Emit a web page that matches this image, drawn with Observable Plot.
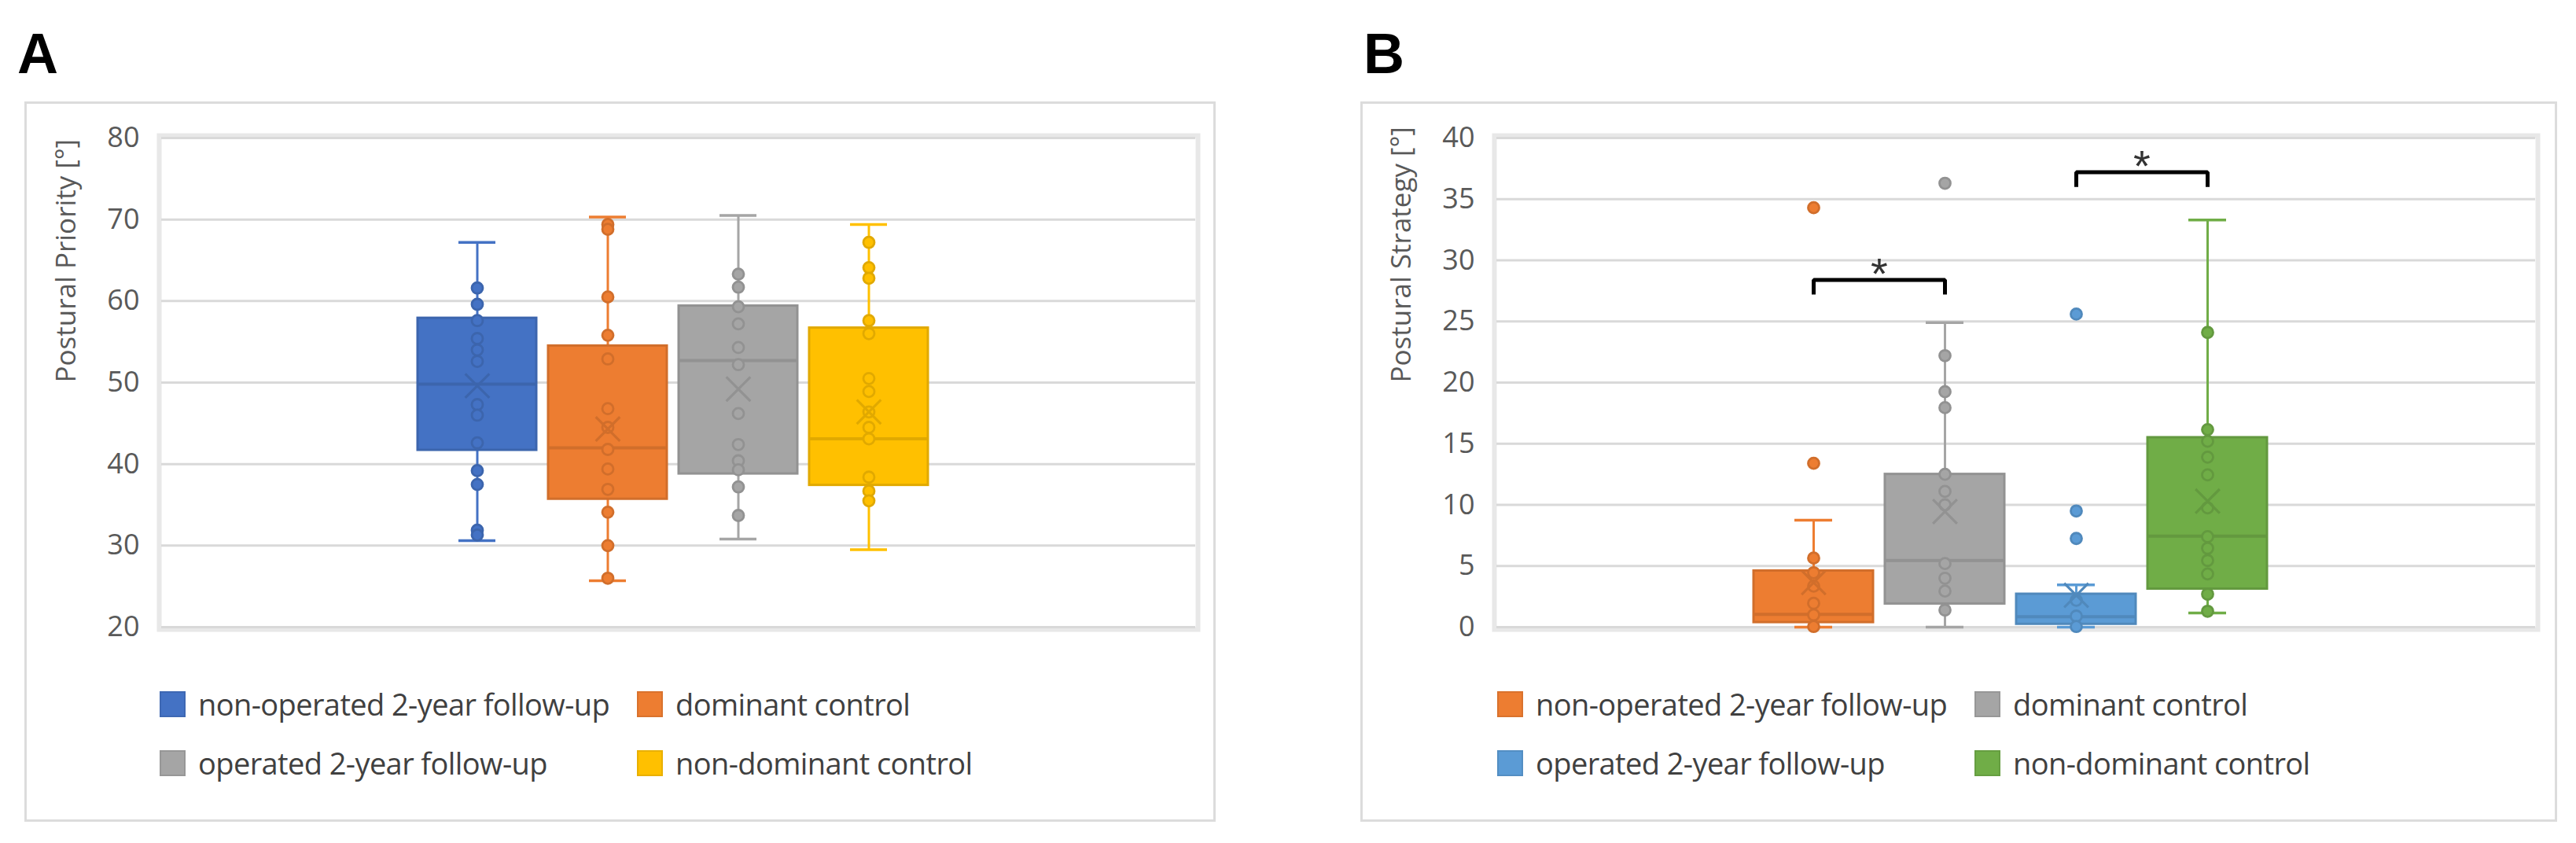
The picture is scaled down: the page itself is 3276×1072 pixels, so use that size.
<!DOCTYPE html>
<html>
<head>
<meta charset="utf-8">
<script src="https://cdn.jsdelivr.net/npm/d3@7"></script>
<script src="https://cdn.jsdelivr.net/npm/@observablehq/plot@0.6"></script>
<style>
  body { margin: 0; background: #fff; }
  #root { position: relative; width: 3276px; height: 1072px; overflow: hidden; background: #fff; font-family: "Open Sans", sans-serif; }
  .panel { position: absolute; border: 3px solid #dcdcdc; box-sizing: border-box; }
  .letter { position: absolute; font: bold 72px "Liberation Sans", Arial, sans-serif; line-height: 1; color: #000; }
  .chart { position: absolute; }
  .legend { position: absolute; display: grid; grid-template-columns: 607px 607px; row-gap: 35px; }
  .item { display: flex; align-items: center; height: 40px; white-space: nowrap; }
  .sw { width: 33px; height: 33px; box-sizing: border-box; margin-right: 16px; flex: none; }
  .lab { font-family: "Open Sans", sans-serif; font-size: 38px; color: #404040; letter-spacing: -0.6px; }
</style>
</head>
<body>
<div id="root"></div>
<script>
// ---------- Panel A: Postural Priority ----------
const seriesA = ["non-operated 2-year follow-up", "dominant control", "operated 2-year follow-up", "non-dominant control"];
const lowA  = [30.6, 25.7, 30.8, 29.5];
const q1A   = [41.7, 35.7, 38.8, 37.4];
const medA  = [49.8, 42.0, 52.7, 43.1];
const q3A   = [57.9, 54.5, 59.4, 56.7];
const highA = [67.2, 70.3, 70.5, 69.4];
const meanA = [49.6, 44.3, 49.2, 46.4];
const pointsA = [
  [61.6, 59.6, 57.6, 55.4, 54.0, 52.6, 47.3, 46.0, 42.6, 39.2, 37.5, 31.9, 31.3],
  [69.4, 68.8, 60.5, 55.8, 52.9, 46.8, 44.5, 41.8, 39.4, 36.9, 34.1, 30.0, 26.0],
  [63.3, 61.7, 59.3, 57.2, 54.3, 52.2, 46.2, 42.4, 40.4, 39.3, 37.2, 33.7],
  [67.2, 64.1, 62.8, 57.6, 56.0, 50.5, 48.9, 46.4, 44.5, 43.1, 38.4, 36.7, 35.5]
];
const ticksA = [20, 30, 40, 50, 60, 70, 80];
const yLabelA = "Postural Priority [°]";

// ---------- Panel B: Postural Strategy ----------
const seriesB = ["non-operated 2-year follow-up", "dominant control", "operated 2-year follow-up", "non-dominant control"];
const lowB  = [0, 0, 0, 1.15];
const q1B   = [0.38, 1.9, 0.24, 3.12];
const medB  = [1.05, 5.45, 0.85, 7.45];
const q3B   = [4.6, 12.5, 2.7, 15.5];
const highB = [8.75, 24.9, 3.45, 33.3];
const meanB = [3.65, 9.45, 2.6, 10.3];
const pointsB = [
  [34.3, 13.4, 5.65, 4.45, 3.35, 1.95, 1.0, 0.05],
  [36.3, 22.2, 19.25, 17.95, 12.5, 11.1, 10.0, 5.2, 4.0, 2.95, 1.4],
  [25.6, 9.5, 7.25, 2.2, 0.9, 0.05],
  [24.1, 16.15, 15.2, 13.9, 12.45, 9.75, 7.4, 6.45, 5.45, 4.35, 2.7, 1.3]
];
const ticksB = [0, 5, 10, 15, 20, 25, 30, 35, 40];
const yLabelB = "Postural Strategy [°]";
const bracketFrom  = ["non-operated 2-year follow-up", "operated 2-year follow-up"];
const bracketTo    = ["dominant control", "non-dominant control"];
const bracketTop   = [28.4, 37.2];
const bracketFoot  = [27.2, 36.0];
const bracketLabel = ["*", "*"];

// ---------- styling ----------
const colorsA = ["#4472C4", "#ED7D31", "#A5A5A5", "#FFC000"];
const colorsB = ["#ED7D31", "#A5A5A5", "#5B9BD5", "#70AD47"];

const root = document.getElementById("root");

function darker(c, k = 0.35) { return d3.color(c).darker(k).formatHex(); }

function panel(cfg) {
  const {left, width, letter, letterLeft, series, colors, low, q1, med, q3, high, mean, points, ticks, yLabel, brackets, legendLeft} = cfg;
  const top = 129, height = 700;
  const mL = cfg.marginLeft, mR = cfg.marginRight, mT = 46, mB = 32;
  const pi = 0.09, po = 2.0;
  const step = (width - mL - mR) / (series.length - pi + 2 * po);
  const fillOf = Object.fromEntries(series.map((s, i) => [s, colors[i]]));
  const strokeOf = Object.fromEntries(series.map((s, i) => [s, darker(colors[i])]));

  const stats = series.map((s, i) => ({series: s, low: low[i], q1: q1[i], med: med[i], q3: q3[i], high: high[i], mean: mean[i]}));
  const pts = points.flatMap((arr, i) => arr.map(v => ({series: series[i], value: v})));

  const marks = [
    Plot.frame({stroke: "#e8e8e8", strokeWidth: 6, inset: -3}),
    Plot.ruleY(ticks, {stroke: "#d9d9d9", strokeWidth: 3}),
    Plot.text(ticks, {y: d => d, text: d => String(d), frameAnchor: "left", textAnchor: "end", dx: -28, fontSize: 36, fill: "#595959"}),
    Plot.text([yLabel], {text: d => d, frameAnchor: "left", dx: -121, rotate: -90, fontSize: 35, fill: "#595959"}),
    // whiskers
    Plot.ruleX(stats, {x: "series", y1: "low", y2: "q1", stroke: d => fillOf[d.series], strokeWidth: 3}),
    Plot.ruleX(stats, {x: "series", y1: "q3", y2: "high", stroke: d => fillOf[d.series], strokeWidth: 3}),
    Plot.tickY(stats, {x: "series", y: "low", stroke: d => fillOf[d.series], strokeWidth: 3.5, insetLeft: 52, insetRight: 52}),
    Plot.tickY(stats, {x: "series", y: "high", stroke: d => fillOf[d.series], strokeWidth: 3.5, insetLeft: 52, insetRight: 52}),
    // boxes
    Plot.barY(stats, {x: "series", y1: "q1", y2: "q3", fill: d => fillOf[d.series], stroke: d => strokeOf[d.series], strokeWidth: 3}),
    Plot.tickY(stats, {x: "series", y: "med", stroke: d => strokeOf[d.series], strokeWidth: 4}),
    // points
    Plot.dot(pts, {x: "series", y: "value", r: 7, fill: d => fillOf[d.series], stroke: d => strokeOf[d.series], strokeWidth: 2.8}),
    // mean
    Plot.dot(stats, {x: "series", y: "mean", symbol: "times", r: 14, stroke: d => strokeOf[d.series], strokeWidth: 3.2})
  ];

  if (brackets) {
    const rows = brackets.from.flatMap((f, i) => [
      {x: f, y: brackets.foot[i], z: i},
      {x: f, y: brackets.top[i], z: i},
      {x: brackets.to[i], y: brackets.top[i], z: i},
      {x: brackets.to[i], y: brackets.foot[i], z: i}
    ]);
    marks.push(Plot.line(rows, {x: "x", y: "y", z: "z", stroke: "#000", strokeWidth: 5, strokeLinejoin: "miter", strokeLinecap: "butt"}));
    const stars = brackets.from.map((f, i) => ({x: f, y: brackets.top[i], label: brackets.label[i]}));
    marks.push(Plot.text(stars, {x: "x", y: "y", text: "label", dx: step / 2, dy: 11, lineAnchor: "bottom", fontSize: 56, fontFamily: "Liberation Sans, Arial, sans-serif", fill: "#333"}));
  }

  const svg = Plot.plot({
    width, height,
    marginLeft: mL, marginRight: mR, marginTop: mT, marginBottom: mB,
    x: {domain: series, paddingInner: pi, paddingOuter: po, align: 0.49, axis: null},
    y: {domain: cfg.domain, axis: null},
    color: {type: "identity"},
    style: {fontFamily: "Open Sans, sans-serif", background: "transparent", overflow: "visible", maxWidth: "none"},
    marks
  });

  const box = document.createElement("div");
  box.className = "panel";
  Object.assign(box.style, {left: left + "px", top: top + "px", width: width + "px", height: "916px"});
  root.appendChild(box);

  const wrap = document.createElement("div");
  wrap.className = "chart";
  Object.assign(wrap.style, {left: left + "px", top: top + "px", width: width + "px", height: height + "px"});
  wrap.appendChild(svg);
  root.appendChild(wrap);

  const lt = document.createElement("div");
  lt.className = "letter";
  lt.textContent = letter;
  Object.assign(lt.style, {left: letterLeft + "px", top: "32px"});
  root.appendChild(lt);

  const lg = document.createElement("div");
  lg.className = "legend";
  Object.assign(lg.style, {left: legendLeft + "px", top: "875px"});
  series.forEach((s, i) => {
    const it = document.createElement("div");
    it.className = "item";
    const sw = document.createElement("div");
    sw.className = "sw";
    sw.style.background = colors[i];
    sw.style.border = "2px solid " + darker(colors[i], 0.25);
    const lab = document.createElement("span");
    lab.className = "lab";
    lab.textContent = s;
    it.appendChild(sw); it.appendChild(lab);
    lg.appendChild(it);
  });
  root.appendChild(lg);
}

panel({
  left: 31, width: 1515, marginLeft: 174, marginRight: 26, letter: "A", letterLeft: 22,
  series: seriesA, colors: colorsA, low: lowA, q1: q1A, med: medA, q3: q3A, high: highA, mean: meanA,
  points: pointsA, ticks: ticksA, yLabel: yLabelA, domain: [20, 80], legendLeft: 203
});
panel({
  left: 1730, width: 1522, marginLeft: 173, marginRight: 28, letter: "B", letterLeft: 1734,
  series: seriesB, colors: colorsB, low: lowB, q1: q1B, med: medB, q3: q3B, high: highB, mean: meanB,
  points: pointsB, ticks: ticksB, yLabel: yLabelB, domain: [0, 40], legendLeft: 1904,
  brackets: {from: bracketFrom, to: bracketTo, top: bracketTop, foot: bracketFoot, label: bracketLabel}
});
</script>
</body>
</html>
